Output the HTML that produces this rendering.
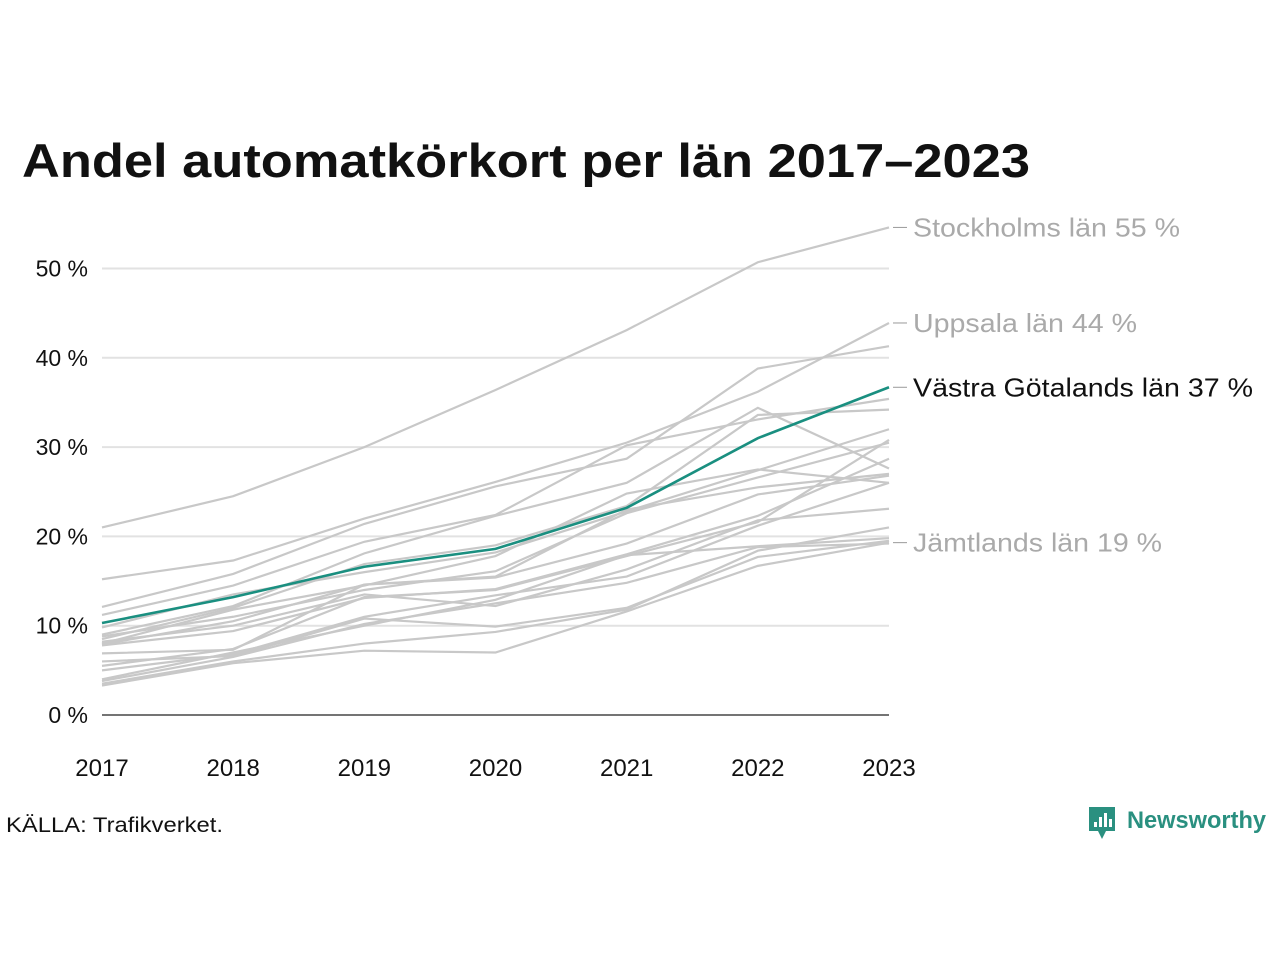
<!DOCTYPE html>
<html><head><meta charset="utf-8"><style>
body{margin:0;background:#fff;width:1280px;height:960px;overflow:hidden;font-family:"Liberation Sans","DejaVu Sans",sans-serif}
</style></head><body>
<svg width="1280" height="960">
<text x="22" y="177" font-size="47" font-weight="bold" fill="#111" textLength="1008" lengthAdjust="spacingAndGlyphs">Andel automatkörkort per län 2017–2023</text>
<g id="grid"></g><g id="lines"></g><g id="labels"></g>
<text x="6" y="832" font-size="21" fill="#111" textLength="217" lengthAdjust="spacingAndGlyphs">KÄLLA: Trafikverket.</text>
<g>
<path d="M1089 807h26v24h-9l-4 8-4-8h-9z" fill="#2a9080"/>
<rect x="1094" y="822" width="3" height="5" fill="#fff"/><rect x="1099" y="817" width="3" height="10" fill="#fff"/><rect x="1104" y="813" width="3" height="14" fill="#fff"/><rect x="1109" y="819" width="3" height="8" fill="#fff"/>
<text x="1127" y="828" font-size="24" font-weight="bold" fill="#2a9080" textLength="139" lengthAdjust="spacingAndGlyphs">Newsworthy</text></g>
</svg>
<script>
const years=[2017,2018,2019,2020,2021,2022,2023];
const yTicks=[0,10,20,30,40,50];
const stockholm=[21.0,24.5,30.0,36.4,43.1,50.7,54.6];
const vastraGotaland=[10.3,13.2,16.6,18.6,23.2,31.0,36.7];
const uppsala=[15.2,17.3,22.0,26.1,30.5,36.2,43.9];
const jamtland=[3.3,5.8,7.2,7.0,11.6,16.7,19.3];
const others=[
[12.1,15.8,21.4,25.6,28.7,38.8,41.3],
[11.2,14.5,19.4,22.4,30.2,33.1,35.4],
[9.0,12.2,18.1,22.3,26.0,34.4,27.6],
[8.5,12.0,16.9,19.0,23.4,33.6,34.2],
[9.8,13.5,16.0,18.2,22.8,27.4,32.0],
[8.0,11.8,14.5,17.8,24.8,27.5,26.0],
[8.8,11.0,14.0,16.1,22.6,26.6,30.5],
[7.9,10.5,14.6,15.5,23.0,25.5,27.0],
[6.9,7.3,14.6,15.4,19.2,24.7,26.8],
[7.8,9.4,13.1,14.1,18.0,22.3,28.7],
[5.5,7.4,13.2,14.0,17.8,21.6,30.8],
[8.2,10.0,13.5,12.2,16.3,21.8,23.1],
[5.0,6.8,11.0,13.4,15.5,21.2,26.0],
[3.8,6.5,10.2,12.5,14.8,18.8,19.2],
[3.5,6.0,8.0,9.3,11.8,18.4,21.0],
[6.0,6.6,10.8,9.9,12.0,17.7,19.5],
[4.0,7.0,10.0,12.9,17.9,18.9,19.8]];
const labelNames=["Stockholms län 55 %","Uppsala län 44 %","Västra Götalands län 37 %","Jämtlands län 19 %"];
const labelWidths=[267,224,340,249];
const NS="http://www.w3.org/2000/svg";
const x=i=>102+(889-102)*(years[i]-2017)/6;
const y=v=>715-v*8.93;
function mk(t,a,p){const e=document.createElementNS(NS,t);for(const k in a)e.setAttribute(k,a[k]);p.appendChild(e);return e;}
const grid=document.getElementById('grid');
yTicks.forEach(t=>{
 const l=mk('line',{x1:102,x2:889,y1:y(t),y2:y(t),stroke:t?'#e2e2e2':'#222','stroke-width':t?2:1.2},grid);
 
 
 const tx=mk('text',{x:88,y:y(t)+8,'font-size':23,fill:'#111','text-anchor':'end'},grid);tx.textContent=t+' %';
 
 
});
years.forEach((yr,i)=>{const tx=mk('text',{x:x(i),y:776,'font-size':24,fill:'#111','text-anchor':'middle'},grid);tx.textContent=yr;
 
 });
const g=document.getElementById('lines');
function line(d,c,w,name){const p=mk('polyline',{points:d.map((v,i)=>x(i)+','+y(v)).join(' '),fill:'none',stroke:c,'stroke-width':w},g);
 
 }
others.forEach((d,k)=>line(d,'#c8c8c8',2.2,'county-line-'+k));
line(stockholm,'#c8c8c8',2.2,'stockholm-line');line(uppsala,'#c8c8c8',2.2,'uppsala-line');line(jamtland,'#c8c8c8',2.2,'jamtland-line');
line(vastraGotaland,'#1a8f80',2.6,'vastra-gotaland-line');
const lg=document.getElementById('labels');
[[stockholm,'#aaa'],[uppsala,'#aaa'],[vastraGotaland,'#111'],[jamtland,'#aaa']].forEach((s,k)=>{
 const v=s[0][6];const yy=y(v);
 mk('line',{x1:893,x2:907,y1:yy,y2:yy,stroke:'#999','stroke-width':1},lg);
 const tx=mk('text',{x:913,y:yy+9,'font-size':26,fill:s[1],textLength:labelWidths[k],lengthAdjust:'spacingAndGlyphs'},lg);tx.textContent=labelNames[k];
 
 
});
</script>
</body></html>
